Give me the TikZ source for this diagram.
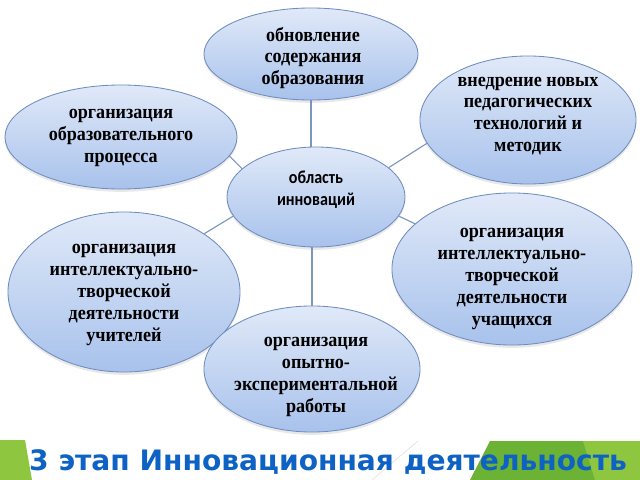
\documentclass[tikz,border=0pt]{standalone}
\usepackage{fontspec}
\setmainfont{Liberation Serif}
\newfontfamily\bubfont{Liberation Serif}[FakeStretch=0.92]
\newfontfamily\cenfont{Carlito}[FakeStretch=0.88]
\newfontfamily\titfont{DejaVu Sans}
\usetikzlibrary{shapes.geometric,shadows,backgrounds}
\definecolor{bubtop}{RGB}{224,233,248}
\definecolor{bubbot}{RGB}{168,194,236}
\definecolor{bubline}{RGB}{110,140,190}
\definecolor{conn}{RGB}{125,150,190}
\definecolor{titblue}{RGB}{14,98,196}
\definecolor{gLight}{RGB}{143,198,64}
\definecolor{gDark}{RGB}{108,178,52}
\begin{document}
\begin{tikzpicture}[x=0.025cm,y=-0.025cm,
  bubble/.style={ellipse, draw=bubline, line width=0.6pt, top color=bubtop, bottom color=bubbot,
    drop shadow={shadow xshift=0pt,shadow yshift=-2pt,opacity=0.18}, inner sep=0pt},
  btext/.style={align=center, font=\bubfont\bfseries\fontsize{14}{15.6}\selectfont, text=black, inner sep=0pt},
  ctext/.style={align=center, font=\cenfont\bfseries\fontsize{13}{15.4}\selectfont, text=black, inner sep=0pt},
  conline/.style={draw=conn, line width=0.8pt}]
\useasboundingbox (0,0) rectangle (640,480);
% bubbles
\node[bubble, minimum width=5.35cm, minimum height=2.3cm] (T) at (311,54) {};
\node[bubble, minimum width=5.8cm, minimum height=2.6cm] (LU) at (121,137) {};
\node[bubble, minimum width=5.4cm, minimum height=3.2cm] (RU) at (528,120) {};
\node[bubble, minimum width=4.45cm, minimum height=2.5cm] (C) at (316,197) {};
\node[bubble, minimum width=5.8cm, minimum height=4.0cm] (LL) at (124,292) {};
\node[bubble, minimum width=6.0cm, minimum height=3.8cm] (RL) at (512,269) {};
\node[bubble, minimum width=5.4cm, minimum height=3.15cm] (B) at (312,369) {};
% background, band and vertical connectors
\begin{pgfonlayer}{background}
\fill[white] (0,0) rectangle (640,480);
\fill[gLight] (0,440) -- (25,440) -- (32,480) -- (0,480) -- cycle;
\fill[gDark] (490,441) -- (640,441) -- (640,480) -- (470,480) -- cycle;
\fill[gLight] (583,441) -- (640,441) -- (640,480) -- (595,480) -- cycle;
\draw[black!12, line width=0.4pt] (418,441) -- (372,480);
\draw[conline] (T.south) -- (T.south |- C.center);
\draw[conline] (B.north) -- (B.north |- C.center);
\end{pgfonlayer}
\draw[conline] (C.159) -- (LU.350);
\draw[conline] (C.22) -- (RU.193);
\draw[conline] (C.193) -- (LL.36);
\draw[conline] (C.347) -- (RL.155);
% texts
\node[btext] (Tt) at (313,58) {обновление\\содержания\\образования};
\node[btext] (LUt) at (121,138) {организация\\образовательного\\процесса};
\node[btext] (RUt) at (528,116) {внедрение новых\\педагогических\\технологий и\\методик};
\node[ctext] (Ct) at (316,190) {область\\инноваций};
\node[btext] (LLt) at (124,295) {организация\\интеллектуально-\\творческой\\деятельности\\учителей};
\node[btext] (RLt) at (512,279) {организация\\интеллектуально-\\творческой\\деятельности\\учащихся};
\node[btext] (Bt) at (316,377) {организация\\опытно-\\экспериментальной\\работы};
\node[anchor=base, font=\titfont\bfseries\fontsize{20}{23}\selectfont, text=titblue, inner sep=0pt] (title) at (328,470) {3 этап Инновационная деятельность};
\end{tikzpicture}
\end{document}
